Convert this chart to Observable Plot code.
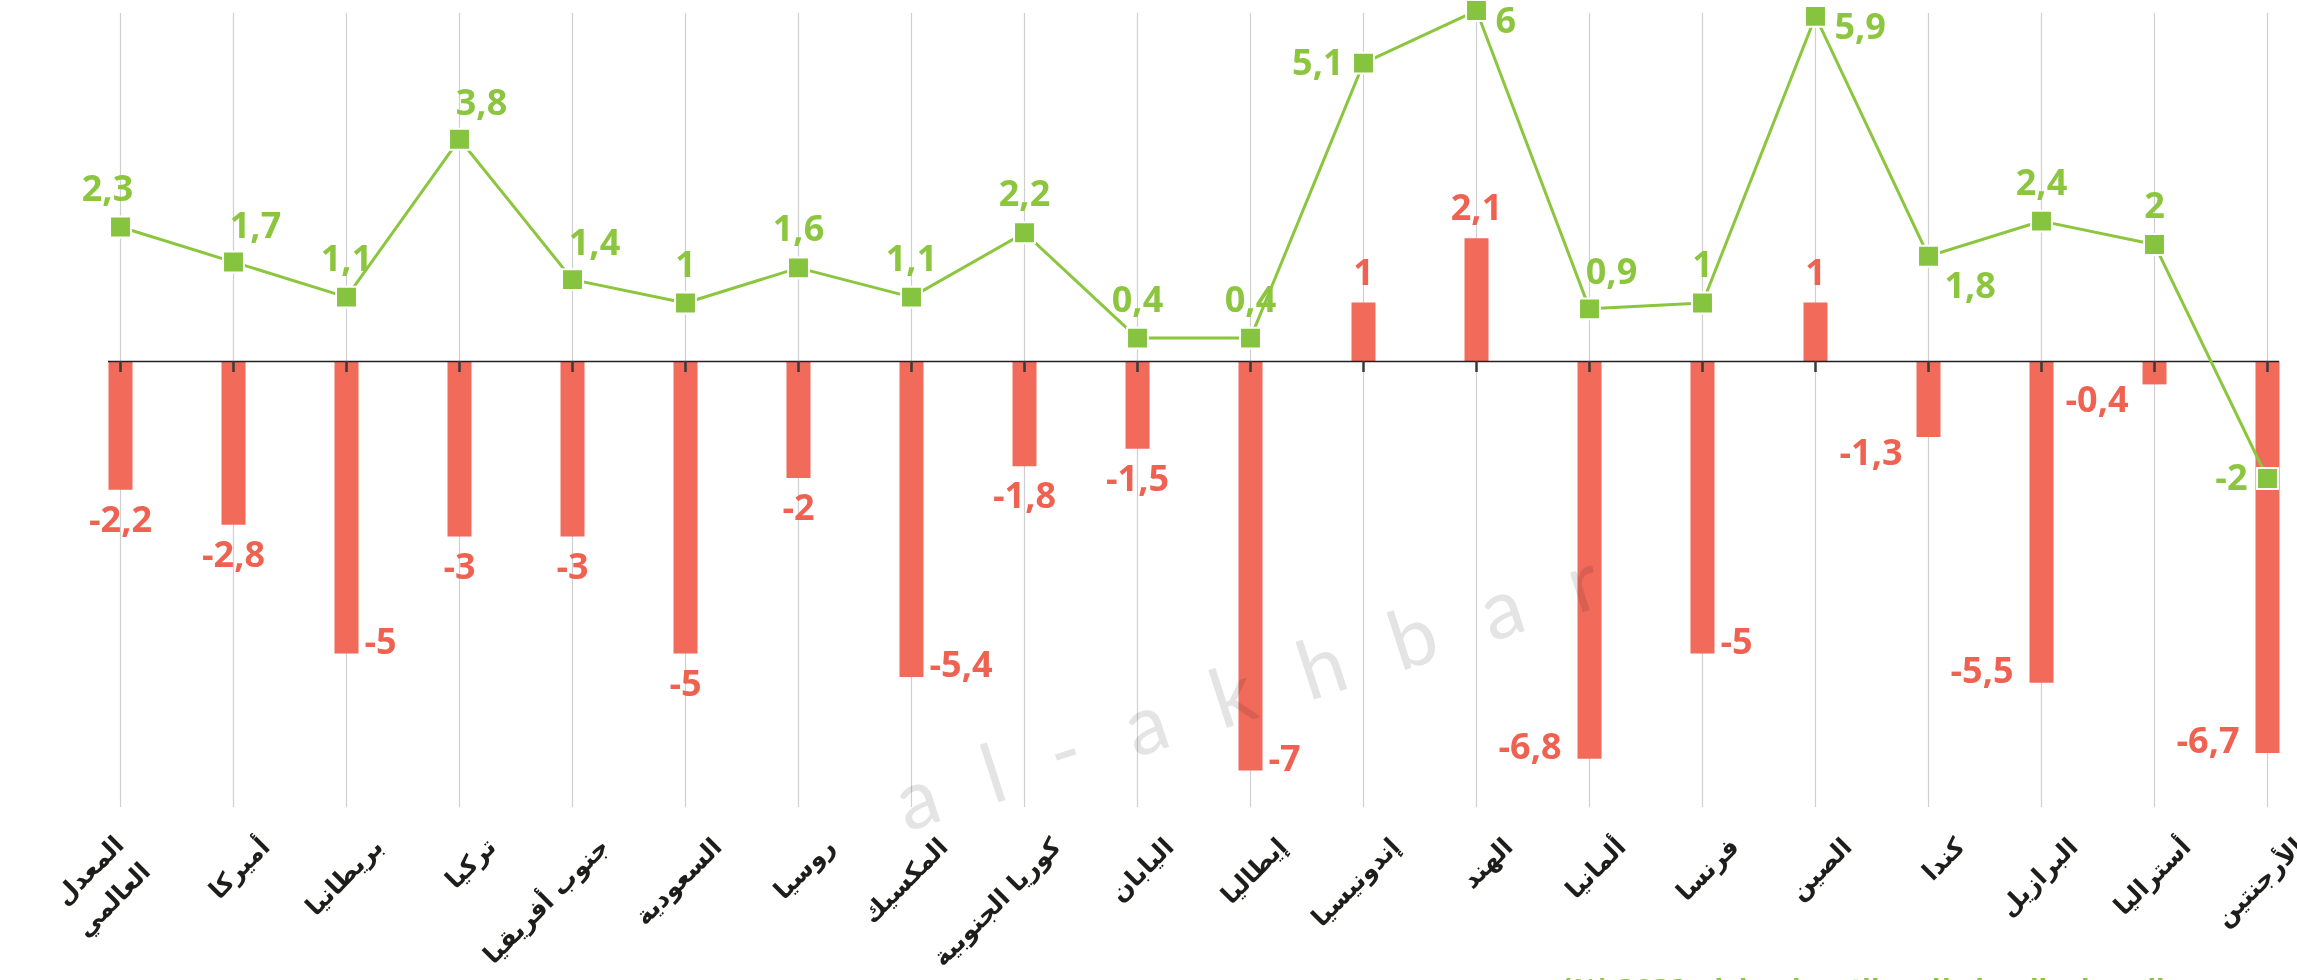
<!DOCTYPE html>
<html lang="ar">
<head>
<meta charset="utf-8">
<script src="https://cdn.jsdelivr.net/npm/d3@7"></script>
<script src="https://cdn.jsdelivr.net/npm/@observablehq/plot@0.6"></script>
<style>
  html, body { margin: 0; padding: 0; background: #fff; overflow: hidden; }
  #wrap { position: relative; width: 2297px; height: 980px; overflow: hidden; }
  #watermark {
    position: absolute; left: 900px; top: 752px;
    font: 400 82px "Lato", "Open Sans", sans-serif; color: #e4e4e4;
    letter-spacing: 50px; white-space: nowrap;
    transform: rotate(-18deg); transform-origin: 0 60px;
    mix-blend-mode: multiply; pointer-events: none;
  }
  #caption {
    position: absolute; top: 976px; left: 1558px; width: 610px;
    text-align: center; direction: rtl; white-space: nowrap;
    font: 700 25px "DejaVu Sans", sans-serif; line-height: 1; color: #8cc63f;
  }
</style>
</head>
<body>
<div id="wrap">
  <div id="chart"></div>
  <div id="watermark">al-akhbar</div>
  <div id="caption"></div>
</div>
<script>
// ---- data ----
const countries = [
  "المعدل\nالعالمي", "أميركا", "بريطانيا", "تركيا", "جنوب أفريقيا",
  "السعودية", "روسيا", "المكسيك", "كوريا الجنوبية", "اليابان",
  "إيطاليا", "إندونيسيا", "الهند", "ألمانيا", "فرنسا",
  "الصين", "كندا", "البرازيل", "أستراليا", "الأرجنتين"
];
const growth2020 = [-2.2, -2.8, -5, -3, -3, -5, -2, -5.4, -1.8, -1.5, -7, 1, 2.1, -6.8, -5, 1, -1.3, -5.5, -0.4, -6.7];
const growth2021 = [2.3, 1.7, 1.1, 3.8, 1.4, 1, 1.6, 1.1, 2.2, 0.4, 0.4, 5.1, 6, 0.9, 1, 5.9, 1.8, 2.4, 2, -2];
// where each value label sits relative to its mark
const place2020 = ["below","below","r","below","below","below","below","r","below","below","r","above","above","l","r","above","lb","l","lb","l"];
const place2021 = ["tl","tr","t","tr","tr","t","t","t","t","t","t","l","r","tr","t","r","br","t","t","l"];
const captionText = "التوقعات المعدلة للنمو الاقتصادي لعام 2021 (%)";

document.getElementById("caption").textContent = captionText;

const rows = countries.map((c, i) => ({
  country: c, g2020: growth2020[i], g2021: growth2021[i], p20: place2020[i], p21: place2021[i],
  multi: c.includes("\n")
}));
const fmt = v => String(v).replace(".", ",");

const RED = "#f26a5a", RED_TXT = "#ef6251", GREEN = "#8cc63f", SQ = "#86c440";
const NUMFONT = "Open Sans";

const off21 = {
  t:  {dx: 0,   dy: -38, a: "middle"},
  tl: {dx: -13, dy: -37, a: "middle"},
  tr: {dx: 22,  dy: -36, a: "middle"},
  l:  {dx: -20, dy: 0,   a: "end"},
  r:  {dx: 19,  dy: 11,  a: "start"},
  br: {dx: 16,  dy: 30,  a: "start"}
};
const off20 = {
  below: {dx: 0,   dy: 30,  a: "middle"},
  above: {dx: 0,   dy: -30, a: "middle"},
  r:     {dx: 18,  dy: -12, a: "start"},
  l:     {dx: -28, dy: -12, a: "end"},
  lb:    {dx: -26, dy: 16,  a: "end"}
};

const labelMarks21 = Object.entries(off21).map(([k, o]) =>
  Plot.text(rows.filter(d => d.p21 === k), {
    x: "country", y: "g2021", text: d => fmt(d.g2021),
    dx: o.dx, dy: o.dy, textAnchor: o.a, lineAnchor: "middle",
    fill: GREEN, fontSize: 36, fontWeight: 700, fontFamily: NUMFONT
  }));
const labelMarks20 = Object.entries(off20).map(([k, o]) =>
  Plot.text(rows.filter(d => d.p20 === k), {
    x: "country", y: "g2020", text: d => fmt(d.g2020),
    dx: o.dx, dy: o.dy, textAnchor: o.a, lineAnchor: "middle",
    fill: RED_TXT, fontSize: 36, fontWeight: 700, fontFamily: NUMFONT
  }));

const catLabel = (data, dx, dy) => Plot.text(data, {
  x: "country", text: "country", frameAnchor: "bottom",
  dx, dy, rotate: -45, textAnchor: "end", lineAnchor: "top", lineHeight: 1.5,
  fontSize: 25, fontWeight: 700, fontFamily: "DejaVu Sans", fill: "#1d1d1b"
});

const chart = Plot.plot({
  width: 2297,
  height: 980,
  marginTop: 13,
  marginBottom: 173,
  marginLeft: 113,
  marginRight: 24,
  style: {background: "transparent", overflow: "visible"},
  x: {type: "point", domain: countries, padding: 0, axis: null},
  y: {domain: [-7.624, 5.949], axis: null},
  marks: [
    // vertical grid lines
    Plot.ruleX(rows, {x: "country", stroke: "#cfcfcf", strokeWidth: 1.2}),
    // 2020 bars
    Plot.ruleX(rows, {x: "country", y1: 0, y2: "g2020", stroke: RED, strokeWidth: 24}),
    // zero baseline
    Plot.ruleY([0], {x1: () => countries[0], x2: () => countries[countries.length - 1],
      insetLeft: -12, insetRight: -12, stroke: "#222", strokeWidth: 1.6}),
    // ticks under baseline
    Plot.ruleX(rows, {x: "country", y1: 0, y2: 0, insetBottom: -11, stroke: "#3a3a3a", strokeWidth: 2.5}),
    // 2021 line + square markers
    Plot.line(rows, {x: "country", y: "g2021", stroke: GREEN, strokeWidth: 3}),
    Plot.dot(rows, {x: "country", y: "g2021", symbol: "square", r: 11.8, fill: SQ, stroke: "#fff", strokeWidth: 2}),
    ...labelMarks20,
    ...labelMarks21,
    // category labels
    catLabel(rows.filter(d => !d.multi), 19, 22),
    catLabel(rows.filter(d => d.multi), -14, 20)
  ]
});
document.getElementById("chart").appendChild(chart);
</script>
</body>
</html>
